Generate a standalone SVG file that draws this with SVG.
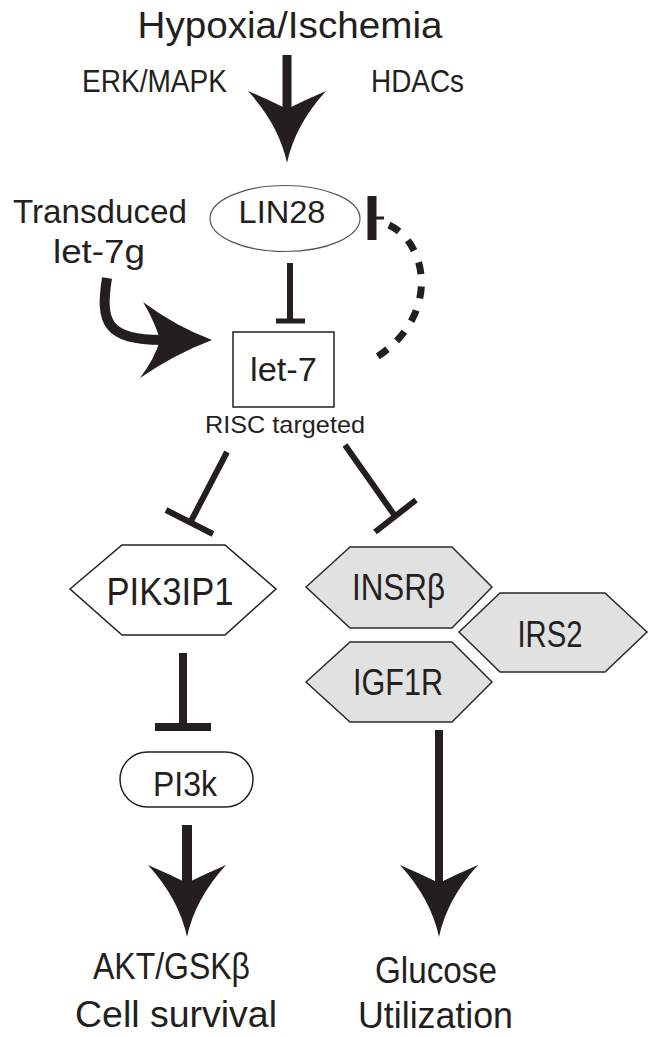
<svg xmlns="http://www.w3.org/2000/svg" xmlns:xlink="http://www.w3.org/1999/xlink" width="658" height="1037" viewBox="0 0 658 1037">
<style>
text{font-family:"Liberation Sans",Arial,sans-serif;fill:#231f20;text-anchor:middle}
.node{stroke:#231f20;stroke-width:1.5;fill:#ffffff}
.grey{fill:#e1e1e1;stroke:#2a2a2a;stroke-width:1.5}
.ln{stroke:#231f20;fill:none;stroke-linecap:butt}
.head{fill:#231f20}
</style>
<defs>
<path id="ahead" d="M0,0 Q-8,-38 -39,-72 Q-18,-63 0,-54 Q18,-63 39,-72 Q8,-38 0,0 Z"/>
</defs>
<rect width="658" height="1037" fill="#ffffff"/>

<g id="labels">
<text x="290" y="38" font-size="36" textLength="305" lengthAdjust="spacingAndGlyphs">Hypoxia/Ischemia</text>
<text x="154.5" y="92" font-size="31" textLength="145" lengthAdjust="spacingAndGlyphs">ERK/MAPK</text>
<text x="417.5" y="92" font-size="31" textLength="93" lengthAdjust="spacingAndGlyphs">HDACs</text>
<text x="100" y="223" font-size="34" textLength="174" lengthAdjust="spacingAndGlyphs">Transduced</text>
<text x="99" y="263" font-size="34" textLength="92" lengthAdjust="spacingAndGlyphs">let-7g</text>
<text x="285" y="433" font-size="24" textLength="160" lengthAdjust="spacingAndGlyphs">RISC targeted</text>
<text x="171.5" y="979" font-size="36" textLength="157" lengthAdjust="spacingAndGlyphs">AKT/GSKβ</text>
<text x="176" y="1027" font-size="36" textLength="202" lengthAdjust="spacingAndGlyphs">Cell survival</text>
<text x="436" y="983" font-size="36" textLength="122" lengthAdjust="spacingAndGlyphs">Glucose</text>
<text x="435.5" y="1028" font-size="36" textLength="155" lengthAdjust="spacingAndGlyphs">Utilization</text>
</g>

<g id="connectors">
<!-- Hypoxia -> LIN28 -->
<line class="ln" x1="287" y1="55" x2="287" y2="112" stroke-width="9"/>
<use xlink:href="#ahead" class="head" transform="translate(287,163)"/>
<!-- LIN28 -| let-7 -->
<line class="ln" x1="290" y1="263" x2="290" y2="320" stroke-width="6"/>
<line class="ln" x1="276" y1="321" x2="305" y2="321" stroke-width="5"/>
<!-- Transduced let-7g -> let-7 -->
<path class="ln" d="M107,278 C100,322 106,340 162,340" stroke-width="10"/>
<path class="head" d="M212,340 Q175,326 143,302 Q155,322 160,340 Q155,358 140,378 Q175,354 212,340 Z"/>
<!-- let-7 -| LIN28 (dashed feedback) -->
<path class="ln" d="M389,225 C430,245 440,320 372,360" stroke-width="7" stroke-dasharray="12 12.5"/>
<line class="ln" x1="376" y1="218" x2="384" y2="218" stroke-width="3"/>
<line class="ln" x1="372" y1="196" x2="372" y2="240" stroke-width="9"/>
<!-- let-7 -| PIK3IP1 -->
<line class="ln" x1="227" y1="452" x2="190" y2="523" stroke-width="6"/>
<line class="ln" x1="166" y1="510" x2="213" y2="534" stroke-width="6"/>
<!-- let-7 -| INSRb -->
<line class="ln" x1="345" y1="445" x2="395" y2="516" stroke-width="6"/>
<line class="ln" x1="375" y1="532" x2="416" y2="500" stroke-width="6"/>
<!-- PIK3IP1 -| PI3k -->
<line class="ln" x1="183" y1="653" x2="183" y2="724" stroke-width="8"/>
<line class="ln" x1="155" y1="727" x2="211" y2="727" stroke-width="8"/>
<!-- PI3k -> AKT -->
<line class="ln" x1="187" y1="825" x2="187" y2="885" stroke-width="10"/>
<use xlink:href="#ahead" class="head" transform="translate(187,937)"/>
<!-- receptors -> Glucose -->
<line class="ln" x1="439" y1="730" x2="439" y2="885" stroke-width="8"/>
<use xlink:href="#ahead" class="head" transform="translate(439,937)"/>
</g>

<g id="node-lin28">
<ellipse cx="285" cy="218.5" rx="75" ry="33" fill="#ffffff" stroke="#555555" stroke-width="1.2"/>
<text x="282" y="223" font-size="32" textLength="87" lengthAdjust="spacingAndGlyphs">LIN28</text>
</g>

<g id="node-let7">
<rect class="node" x="233" y="332" width="101" height="75"/>
<text x="283.5" y="381" font-size="33" textLength="67" lengthAdjust="spacingAndGlyphs">let-7</text>
</g>

<g id="node-pik3ip1">
<polygon class="node" points="70,589 122,545 225,545 276,589 225,635 122,635"/>
<text x="170" y="605" font-size="38" textLength="127" lengthAdjust="spacingAndGlyphs">PIK3IP1</text>
</g>

<g id="node-insrb">
<polygon class="grey" points="306,587 350,547 452,547 492,587 452,628 350,628"/>
<text x="398.5" y="600" font-size="36" textLength="93" lengthAdjust="spacingAndGlyphs">INSRβ</text>
</g>

<g id="node-irs2">
<polygon class="grey" points="459,632 500,593 605,593 647,632 605,672 500,672"/>
<text x="550" y="647" font-size="36" textLength="65" lengthAdjust="spacingAndGlyphs">IRS2</text>
</g>

<g id="node-igf1r">
<polygon class="grey" points="306,682 350,642 452,642 492,682 452,722 350,722"/>
<text x="398" y="695" font-size="36" textLength="90" lengthAdjust="spacingAndGlyphs">IGF1R</text>
</g>

<g id="node-pi3k">
<rect class="node" x="120" y="752" width="133" height="55" rx="27.5" ry="27.5"/>
<text x="185" y="796" font-size="35" textLength="64" lengthAdjust="spacingAndGlyphs">PI3k</text>
</g>
</svg>
